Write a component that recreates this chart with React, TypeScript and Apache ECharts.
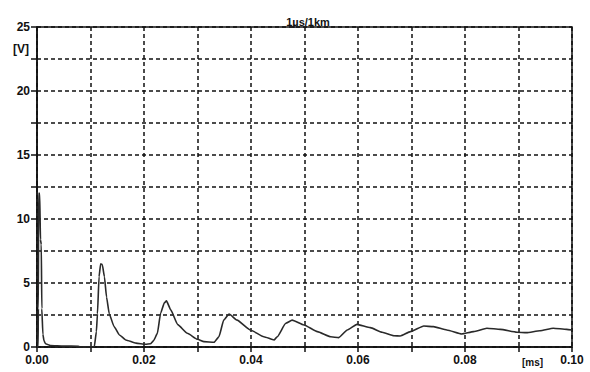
import React, { useEffect, useRef } from "react";
import * as echarts from "echarts";

const titleText = "1µs/1km";
const xUnit = "[ms]";
const yUnit = "[V]";

// time in ms
const timeMs = [
  0, 0.0002, 0.00025, 0.0003, 0.0005, 0.00065, 0.0008, 0.0009, 0.0011, 0.0013,
  0.0016, 0.0025, 0.005, 0.0078, 0.008, 0.0107, 0.0111, 0.0113, 0.0116, 0.0119,
  0.0122, 0.0126, 0.013, 0.0135, 0.0144, 0.0154, 0.0166, 0.0185, 0.0203, 0.0212,
  0.0218, 0.0225, 0.0231, 0.0238, 0.0242, 0.025, 0.0263, 0.0281, 0.03, 0.0312,
  0.0331, 0.034, 0.0349, 0.0359, 0.0374, 0.0399, 0.0424, 0.0443, 0.0449, 0.0465,
  0.0477, 0.0499, 0.0524, 0.0549, 0.0564, 0.058, 0.0598, 0.0623, 0.0645, 0.0667,
  0.0679, 0.0698, 0.0723, 0.0741, 0.0766, 0.0794, 0.0816, 0.0841, 0.0866, 0.0897,
  0.0915, 0.094, 0.0965, 0.099, 0.1,
];
// voltage in V
const voltage = [
  0, 0, 3, 12, 12, 8.4, 8, 3, 1.0, 0.5,
  0.25, 0.12, 0.08, 0.06, 0, 0, 1.2, 2.6, 5.5, 6.5,
  6.45, 5.5, 3.9, 2.6, 1.6, 0.94, 0.55, 0.3, 0.22, 0.25,
  0.5, 1.07, 2.63, 3.45, 3.6, 2.9, 1.75, 1.07, 0.6, 0.42,
  0.37, 0.8, 2.1, 2.58, 2.1, 1.33, 0.8, 0.55, 0.8, 1.85,
  2.1, 1.72, 1.2, 0.8, 0.73, 1.33, 1.77, 1.51, 1.15, 0.88,
  0.86, 1.2, 1.64, 1.59, 1.33, 1.02, 1.2, 1.46, 1.38, 1.15,
  1.12, 1.27, 1.46, 1.38, 1.33,
];

export default function App() {
  const ref = useRef<HTMLDivElement>(null);
  useEffect(() => {
    if (!ref.current) return;
    const chart = echarts.init(ref.current, null, { renderer: "svg" });
    const font = "Liberation Sans";
    chart.setOption({
      animation: false,
      backgroundColor: "#ffffff",
      title: {
        text: titleText,
        left: 303,
        top: 11,
        textAlign: "center",
        textStyle: { fontSize: 11, fontWeight: "bold", fontFamily: font, color: "#111" },
      },
      grid: {
        left: 37,
        right: 18,
        top: 27,
        bottom: 25,
        show: true,
        borderColor: "#111",
        borderWidth: 1.5,
        containLabel: false,
      },
      xAxis: {
        type: "value",
        min: 0,
        max: 0.1,
        interval: 0.01,
        axisLine: { show: true, lineStyle: { color: "#111", width: 1.5 } },
        axisTick: { show: true, inside: false, length: 5, lineStyle: { color: "#111", width: 1.5 } },
        axisLabel: {
          margin: 7,
          fontSize: 12,
          fontWeight: "bold",
          fontFamily: font,
          color: "#111",
          formatter: (v: number) => (Math.round(v * 100) % 2 === 0 ? v.toFixed(2) : ""),
        },
        splitLine: { show: true, lineStyle: { color: "#111", width: 1.5, type: [4, 3] } },
      },
      yAxis: {
        type: "value",
        min: 0,
        max: 25,
        interval: 2.5,
        axisLine: { show: true, lineStyle: { color: "#111", width: 1.5 } },
        axisTick: { show: true, inside: false, length: 6, lineStyle: { color: "#111", width: 1.5 } },
        axisLabel: {
          margin: 7,
          fontSize: 12,
          fontWeight: "bold",
          fontFamily: font,
          color: "#111",
          formatter: (v: number) => (v % 5 === 0 ? String(v) : ""),
        },
        splitLine: { show: true, lineStyle: { color: "#111", width: 1.5, type: [4, 3] } },
      },
      graphic: [
        {
          type: "text",
          left: 13,
          top: 43,
          style: { text: yUnit, fontSize: 12, fontWeight: "bold", fontFamily: font, fill: "#111" },
        },
        {
          type: "text",
          left: 522,
          top: 357,
          style: { text: xUnit, fontSize: 10, fontWeight: "bold", fontFamily: font, fill: "#111" },
        },
      ],
      series: [
        {
          type: "line",
          data: timeMs.map((t, i) => [t, voltage[i]]),
          showSymbol: false,
          smooth: 0.15,
          smoothMonotone: "x",
          lineStyle: { color: "#2a2a2a", width: 1.6 },
        },
      ],
    });
    return () => chart.dispose();
  }, []);
  return (
    <div
      ref={ref}
      style={{ position: "fixed", left: 0, top: 0, width: 590, height: 372 }}
    />
  );
}
